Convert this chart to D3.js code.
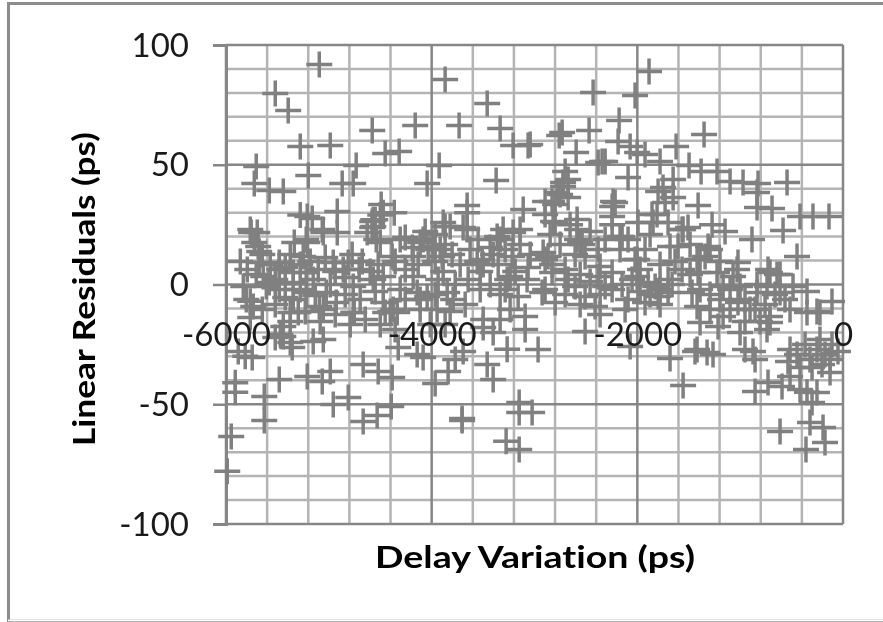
<!DOCTYPE html>
<html>
<head>
<meta charset="utf-8">
<script src="https://cdn.jsdelivr.net/npm/d3@7"></script>
<style>
  html, body { margin: 0; padding: 0; background: white; }
  svg { display: block; filter: blur(0.4px); }
  text { font-variant-ligatures: none; }
</style>
</head>
<body>
<div id="chart"></div>
<script>
// values, same order in both arrays
const delayVariation = [
  -5093,-5521,-5395,-5278,-4986,-4578,-4160,-3869,-3460,-3733,-3334,-3208,-3062,-4452,-4316,-5706,-4734,-3927,-5200,-5725,
  -5579,-5443,-4870,-4763,-4044,-3373,-4918,-4491,-4364,-3655,-3655,-3110,-5210,-5161,-5278,-4500,-4549,-4578,-4578,
  -1886,-2430,-2022,-2177,-2731,-2760,-2469,-1351,-3042,-2595,-2187,-2070,-1925,-2002,-1623,-1779,-2343,-2381,-2313,-1497,
  -1380,-1225,-1098,-972,-826,-836,-544,-2090,-1652,-1798,-1652,-1730,-2673,-2722,-2780,-2829,-1409,-836,-690,-583,
  -418,-292,-136,-885,-447,-2236,-2245,-1147,-1273,-1555,-1312,-1021,-729,-642,-1808,-1847,-1682,-2586,-2819,-2556,-2168,
  -2002,-2916,-2362,-2002,-1419,-1293,-1030,
  -5988,-5949,-5910,-5910,-5628,-5628,-5482,-5210,-5064,-4986,-4957,-4811,-4666,-4530,-4393,-4666,-4520,-4384,-3966,-3840,
  -3704,-3704,-3460,-3402,-3149,-3149,-3276,-3149,-5813,-5745,-5881,-5356,-5054,-5152,-5472,-5443,-4083,-4141,-3771,-3694,
  -4325,-3499,-3402,-3266,-3091,-4763,-4374,-5054,-5375,-5764,
  -3023,-2965,-2508,-2070,-1682,-1555,-1419,-1264,-1322,-855,-855,-875,-612,-321,-194,-175,-360,-301,-593,-729,
  -418,-253,-350,-515,-126,-515,-447,-369,-321,-253,-175,-107,-418,-301,-204,-126,-535,-49,-224,-224,-107,
  -253,-350,-486,-710,-612,-1069,-1166,-1341,-739,-836,-612,-1293,-1390,-1166,-1021,-904,-710,-1001,-1215,-1419,
  -1468,-350,-515,-953,-1439,-710,-739,-1409,-1225,-1001,-836,
  -2722,-1750,-2216,-2897,-2673,-2799,-1857,-2586,-2245,-1565,-1507,-2586,-2148,-2022,-2868,-2508,-2381,-1895,-1827,-1701,
  -1798,-2829,-2673,-2245,-2051,-2411,-2799,-1565,-1604,-1993,-1701,-2605,-2926,-2090,-2508,-2313,-1925,-1701,
  -3888,-3694,-3966,-3305,-3208,-3363,-4257,-4083,-4500,-3898,-4180,-4384,-3557,-3402,-3217,-3042,-3499,-3528,-4180,-4471,
  -3888,-3266,-3072,-4306,-4141,-4044,-3849,-3791,-3334,-3528,-3159,-4403,-4452,-4335,-3947,-3499,-3091,-4112,
  -5755,-5725,-5677,-5336,-5220,-5054,-5482,-4811,-4860,-4568,-4539,-4471,-5832,-5638,-5579,-5346,-5220,-5152,-5482,-5803,
  -5735,-5346,-5297,-5025,-5093,-4763,-4928,-4753,-4705,-4471,-4568,-5677,-5249,-4957,-5608,-5220,-5482,-5346,
  -5443,-5375,-5521,-5764,-5696,-5687,-5210,-5064,-4918,-4568,-4627,-4112,-3917,-3869,-3820,-3655,-3985,-3509,-3334,-3140,-3237,
  -5861,-5793,-5706,-5647,-5570,-5521,-5424,-5375,-5278,-5181,-5103,-5035,-4938,-4841,-4773,-4675,-4598,-4520,
  -5424,-5278,-5132,-4986,-4841,-4695,-4549,-5764,-5647,-5521,-5375,-5229,-5084,-4938,-4792,-4646,-4500,-4355,
  -4355,-4257,-4131,-4034,-3966,-3869,-3801,-3723,-3626,-3548,-3431,-3353,-3285,-3140,-3062,-4306,-4189,-4063,
  -3937,-3771,-3645,-3431,-3285,-3188,-4257,-4112,-3966,-3820,-3674,-3237,-3334,-4014,-3869,
  -2897,-2848,-2751,-2654,-2605,-2537,-2459,-2381,-2313,-2245,-2168,-2090,-1973,-1925,-2829,-2702,-2556,-2459,
  -2362,-2245,-2148,-1973,-1876,-1779,-1662,-2702,-2556,-2897,-2119,-2362,-1779,-1487,-1390,-1293,-1196,-1098,
  -953,-855,-758,-661,-564,-1098,-953,-807,-1390,-1487,-1196,-1633,-1779,-1876,-2897,-2751,-2702,-2799
]
const linearResiduals = [
  91.9,79.7,72.6,57.6,58,64.3,66.4,85.6,75.6,66.4,65.1,58,58,54.7,55.5,49.3,49.7,49.7,45.5,42.2,
  39.2,38.8,42.2,42.2,42.2,43.4,30.5,33.4,30,33,30,31.3,28.4,27.6,29,29,27,26.3,23.8,
  88.9,80.2,78.9,68.5,63.5,62.2,64.3,62.6,58.5,55.1,59.7,57.6,54.3,55.1,57.6,51.4,51.4,50.9,51.4,49.7,
  47.2,47.2,43,42.6,42.2,38.4,42.6,44.7,43.8,38.8,36.3,34.2,43.8,40.9,38.4,34.7,33,32.1,31.7,22.5,
  28.4,28.4,28.4,18.8,11.7,34.7,32.6,22.1,25,23,15.9,9.2,6.3,4.2,29.2,25.9,15.9,23,26.3,17.5,20,
  10.4,13.4,7.5,3.3,10.4,14.6,6.3,
  -78,-63.5,-45,-41,-46.8,-56.8,-39.7,-38.4,-40.5,-36.3,-50.1,-47.2,-57.2,-54.7,-50.9,-33.4,-36.3,-38.8,-41.3,-36.3,
  -56.8,-56,-33.4,-39.7,-49.3,-53.4,-65.5,-68.9,-30,-30.5,-28,-26.3,-23,-23.8,-20.9,-17.5,-30.5,-29.2,-31.3,-28,
  -26.3,-18,-20,-27,-18.8,-11.7,-10.4,-10.4,-11.7,-7,
  -53.4,-27.1,-19.6,-25.9,-30.9,-42.2,-27.1,-29.2,-28.4,-44.7,-31.3,-28,-61.4,-57.6,-59.7,-66,-68.9,-49.3,-42.6,-40.9,
  -43.8,-45.1,-45,-38.4,-36.7,-27.1,-29.2,-25,-31.3,-27.1,-29.2,-25,-34.7,-34.7,-33.4,-31.3,-32.1,-28,-23,-11.7,-7.1,
  -11.3,-2.9,-0.8,5,4.2,3.3,-0.8,11.7,-0.8,-3.3,-3.3,-10.4,-15.9,-13.4,-7.5,-10.4,-15.9,-20,-17.5,-9.2,
  -3.3,-11.7,-10.4,-27.1,-28,-13.4,-18.8,5,5,-0.8,0,
  42.6,40.5,34.2,34.7,36.3,25.9,29.2,27.1,28.4,23,23.8,18.8,20,10.4,11.7,11.7,3.3,0.8,-0.8,-3.3,
  -5,5,2.1,5,2.1,-9.2,-7.5,6.3,15.9,25.9,25.9,-0.8,-3.3,-6.3,-5,-0.8,-7.5,2.1,
  25.9,23.8,20.9,23,21.7,20,19.6,18.8,17.5,11.7,11.7,11.7,9.6,12.5,11.7,12.5,8.4,5.4,3.3,3.3,
  5.4,2.1,2.1,-2.1,-3.3,-5,-3.3,-6.3,-4.2,-2.1,-5,-11.3,-11.7,-11.7,-10.4,-14.6,-13.4,-6.3,
  21.7,17.5,13.8,17.5,18.8,21.7,9.2,9.2,6.3,24.2,18.8,30,-0.8,3.3,0.8,5,5,2.1,-2.1,-6.3,
  -9.2,-6.3,-11.7,-3.3,-9.2,-0.8,-7.5,-11.7,6.3,-7.5,2.1,9.2,11.7,9.2,-0.8,-3.3,6.3,0.8,
  -21.7,-24.2,-22.1,23,21.7,15.9,17.5,23,21.7,27,21.7,17.5,14.6,24.2,24.2,23,15.9,10.4,18.8,23,3.3,
  9.6,6.3,4.2,12.5,8.4,2.1,7.1,12.5,8.4,9.6,6.3,11.3,5.4,2.9,12.5,9.6,5.4,8.4,
  -5.4,-2.1,-4.6,0,-4.2,-6.3,-2.9,-13.8,-10.4,-8.4,-15.4,-11.3,-15.4,-12.5,-16.7,-14.6,-16.7,-18.8,
  9.6,6.3,8.4,14.6,9.6,16.7,12.5,8.4,14.6,18.8,15.4,8.4,14.6,16.7,7.1,18.8,15.4,22.1,
  2.1,0,2.1,0,-2.1,5.4,-6.3,-10.4,-4.2,-11.3,-8.4,-10.4,-14.6,-16.7,-16.7,
  29.2,20.9,16.7,25,12.5,16.7,22.1,14.6,18.8,25,14.6,18.8,6.3,14.6,8.4,6.3,4.2,1.3,
  -4.2,-2.1,0,-2.9,-4.2,-2.1,0,-4.2,-8.4,-2.1,-10.4,-12.5,-8.4,4.2,-2.1,-4.2,-6.3,-2.1,
  -6.3,-10.4,-8.4,-4.2,-6.3,-10.4,-15.4,-15.4,10.4,16.7,9.6,9.6,8.4,20.9,10.4,37.6,47.2,33.4
]
const xTickValues = [-6000, -4000, -2000, 0]
const yTickValues = [-100, -50, 0, 50, 100]
const xGridValues = d3.range(-6000, 1, 400)
const yGridValues = d3.range(-100, 101, 10)

const width = 883
const height = 622
const plotLeft = 226
const plotRight = 843
const plotTop = 45
const plotBottom = 524

const svg = d3.select('#chart')
    .append('svg')
    .attr('width', width)
    .attr('height', height)

// outer chart frame
svg.append('rect')
    .attr('x', 8.5)
    .attr('y', 3.5)
    .attr('width', 900)
    .attr('height', 617.5)
    .attr('fill', 'white')
    .attr('stroke', '#8c8c8c')
    .attr('stroke-width', 3)
svg.append('line')
    .attr('x1', 8).attr('x2', width)
    .attr('y1', 621).attr('y2', 621)
    .attr('stroke', 'white')
    .attr('stroke-width', 3)
svg.append('line')
    .attr('x1', 8).attr('x2', width)
    .attr('y1', 621.5).attr('y2', 621.5)
    .attr('stroke', '#b0b0b0')
    .attr('stroke-width', 1)

const x = d3.scaleLinear().domain([-6000, 0]).range([plotLeft, plotRight])
const y = d3.scaleLinear().domain([-100, 100]).range([plotBottom, plotTop])

// minor grid
svg.append('g').selectAll('line')
    .data(xGridValues.filter(d => d % 2000 !== 0))
    .join('line')
    .attr('x1', d => x(d)).attr('x2', d => x(d))
    .attr('y1', plotTop).attr('y2', plotBottom)
    .attr('stroke', '#b4b4b4')
    .attr('stroke-width', 2.5)
svg.append('g').selectAll('line')
    .data(yGridValues.filter(d => d % 50 !== 0))
    .join('line')
    .attr('x1', plotLeft).attr('x2', plotRight)
    .attr('y1', d => y(d)).attr('y2', d => y(d))
    .attr('stroke', '#b4b4b4')
    .attr('stroke-width', 2.5)

// major grid
svg.append('g').selectAll('line')
    .data(xTickValues)
    .join('line')
    .attr('x1', d => x(d)).attr('x2', d => x(d))
    .attr('y1', plotTop).attr('y2', plotBottom)
    .attr('stroke', '#868686')
    .attr('stroke-width', 2.5)
svg.append('g').selectAll('line')
    .data(yTickValues)
    .join('line')
    .attr('x1', plotLeft).attr('x2', plotRight)
    .attr('y1', d => y(d)).attr('y2', d => y(d))
    .attr('stroke', '#868686')
    .attr('stroke-width', 2.5)

// y axis sits on the left edge, ticks stick out to the left
const yAxis = svg.append('g')
    .attr('transform', `translate(${plotLeft}, 0)`)
    .call(d3.axisLeft(y).tickValues(yTickValues).tickFormat(String).tickSize(13).tickPadding(24))
yAxis.select('.domain').attr('stroke', '#868686').attr('stroke-width', 3)
yAxis.selectAll('.tick line').attr('stroke', '#868686').attr('stroke-width', 2.5)

// points
svg.append('g').selectAll('path')
    .data(d3.zip(delayVariation, linearResiduals))
    .join('path')
    .attr('transform', d => `translate(${x(d[0])}, ${y(d[1])})`)
    .attr('d', 'M-13,0H13M0,-13V13')
    .attr('fill', 'none')
    .attr('stroke', '#808080')
    .attr('stroke-width', 3.5)

// x axis crosses at zero, labels hang below it and over the points
const xAxis = svg.append('g')
    .attr('transform', `translate(0, ${y(0)})`)
    .call(d3.axisBottom(x).tickValues(xTickValues).tickFormat(String).tickSize(0).tickPadding(38))
xAxis.select('.domain').remove()

svg.selectAll('.tick text')
    .attr('font-family', 'Lato')
    .attr('font-size', 33)
    .attr('fill', '#1a1a1a')
yAxis.selectAll('.tick text').attr('dy', '0.34em')

svg.append('text')
    .attr('x', 535)
    .attr('y', 568)
    .attr('text-anchor', 'middle')
    .attr('font-family', 'Lato')
    .attr('font-weight', 'bold')
    .attr('font-size', 31)
    .attr('textLength', 320)
    .attr('lengthAdjust', 'spacingAndGlyphs')
    .attr('fill', 'black')
    .text('Delay Variation (ps)')

svg.append('text')
    .attr('transform', 'translate(95, 289) rotate(-90)')
    .attr('text-anchor', 'middle')
    .attr('font-family', 'Lato')
    .attr('font-weight', 'bold')
    .attr('font-size', 31)
    .attr('textLength', 314)
    .attr('lengthAdjust', 'spacingAndGlyphs')
    .attr('fill', 'black')
    .text('Linear Residuals (ps)')
</script>
</body>
</html>
